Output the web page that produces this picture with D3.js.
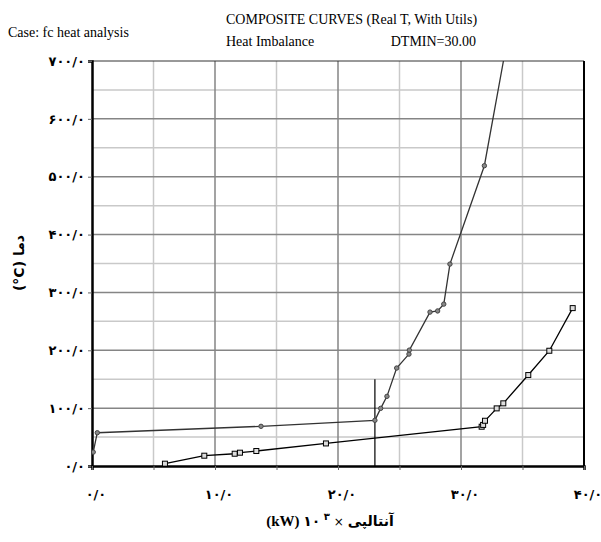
<!DOCTYPE html>
<html>
<head>
<meta charset="utf-8">
<script src="https://cdn.jsdelivr.net/npm/d3@7"></script>
<style>
  body { margin: 0; background: #fff; }
  svg { display: block; }
</style>
</head>
<body>
<svg id="chart" width="601" height="542"></svg>
<script>
// Hot composite curve (circles), enthalpy in kW x 10^3, temperature in C.
const hotH = [0.1, 0.43, 13.74, 23.0, 23.47, 23.98, 24.77, 25.77, 25.8, 27.48, 28.1, 28.6, 29.1, 31.9, 33.45];
const hotT = [24, 57.5, 68.6, 79, 99.6, 120.4, 169.3, 193.4, 200.3, 266, 268, 279.8, 349, 519, 700];

// Cold composite curve (squares).
const coldH = [5.93, 9.13, 11.6, 12.03, 13.36, 19.02, 31.68, 31.8, 31.95, 32.9, 33.44, 35.47, 37.18, 39.08];
const coldT = [4, 17.8, 21.2, 23, 25.9, 39, 67.9, 71, 78.2, 99.6, 108.3, 157.2, 199.2, 272.9];

// Pinch marker line.
const pinchH = 23.0;
const pinchTop = 150;

const xTicks = [0, 10, 20, 30, 40];
const yTicks = [0, 100, 200, 300, 400, 500, 600, 700];

const toFa = (s) => String(s).replace(/[0-9]/g, (d) => '۰۱۲۳۴۵۶۷۸۹'[+d]);
const fmt = (v) => toFa(v) + '/' + toFa(0);

const margin = {left: 92, right: 17, top: 61, bottom: 76};
const width = 601 - margin.left - margin.right;
const height = 542 - margin.top - margin.bottom;

const svg = d3.select('#chart');
const g = svg.append('g').attr('transform', `translate(${margin.left},${margin.top})`);

const x = d3.scaleLinear().domain([0, 40]).range([0, width]);
const y = d3.scaleLinear().domain([0, 700]).range([height, 0]);

// Minor grid (light) at the half steps, major grid (darker) at labelled steps.
const xMinor = d3.range(5, 40, 10);
const yMinor = d3.range(50, 700, 100);
g.append('g').selectAll('line').data(xMinor).join('line')
  .attr('x1', (d) => x(d)).attr('x2', (d) => x(d))
  .attr('y1', 0).attr('y2', height)
  .attr('stroke', '#c9c9c9').attr('stroke-width', 1.5);
g.append('g').selectAll('line').data(yMinor).join('line')
  .attr('y1', (d) => y(d)).attr('y2', (d) => y(d))
  .attr('x1', 0).attr('x2', width)
  .attr('stroke', '#c9c9c9').attr('stroke-width', 1.5);
g.append('g').selectAll('line').data(xTicks.slice(1, -1)).join('line')
  .attr('x1', (d) => x(d)).attr('x2', (d) => x(d))
  .attr('y1', 0).attr('y2', height)
  .attr('stroke', '#858585').attr('stroke-width', 1.5);
g.append('g').selectAll('line').data(yTicks.slice(1, -1)).join('line')
  .attr('y1', (d) => y(d)).attr('y2', (d) => y(d))
  .attr('x1', 0).attr('x2', width)
  .attr('stroke', '#858585').attr('stroke-width', 1.5);

// Frame: top thin, others heavy.
g.append('line').attr('x1', 0).attr('x2', width).attr('y1', 0).attr('y2', 0)
  .attr('stroke', '#333').attr('stroke-width', 1);
g.append('line').attr('x1', width).attr('x2', width).attr('y1', 0).attr('y2', height)
  .attr('stroke', '#000').attr('stroke-width', 2);

// Axes
const yAxis = d3.axisLeft(y).tickValues(yTicks).tickSize(4).tickFormat(fmt);
const xAxis = d3.axisBottom(x).tickValues(d3.range(0, 41, 5)).tickSize(4).tickFormat(() => '');

const gy = g.append('g').call(yAxis);
const gx = g.append('g').attr('transform', `translate(0,${height})`).call(xAxis);
[gx, gy].forEach((a) => {
  a.select('.domain').attr('stroke', '#000').attr('stroke-width', 2.5);
  a.selectAll('.tick line').attr('stroke', '#666');
});
gy.selectAll('.tick text')
  .attr('x', -7)
  .style('font-family', '"DejaVu Sans", sans-serif')
  .style('font-weight', 'bold')
  .style('font-size', '13px')
  .attr('fill', '#000');

// X tick labels (drawn separately, further below the axis).
g.append('g').selectAll('text').data(xTicks).join('text')
  .attr('x', (d) => x(d) + 4)
  .attr('y', height + 33)
  .attr('text-anchor', 'middle')
  .style('font-family', '"DejaVu Sans", sans-serif')
  .style('font-weight', 'bold')
  .style('font-size', '13px')
  .text(fmt);

// Clip to plot area
svg.append('defs').append('clipPath').attr('id', 'plot-clip')
  .append('rect').attr('x', 0).attr('y', 0).attr('width', width).attr('height', height);

const plot = g.append('g').attr('clip-path', 'url(#plot-clip)');
const line = d3.line().x((d) => x(d[0])).y((d) => y(d[1]));

const hot = d3.zip(hotH, hotT);
const cold = d3.zip(coldH, coldT);

// Pinch vertical line
plot.append('line')
  .attr('x1', x(pinchH)).attr('x2', x(pinchH))
  .attr('y1', y(pinchTop)).attr('y2', y(0))
  .attr('stroke', '#000').attr('stroke-width', 1.2);

plot.append('path').datum(hot).attr('d', line)
  .attr('fill', 'none').attr('stroke', '#333').attr('stroke-width', 1.3);
plot.append('path').datum(cold).attr('d', line)
  .attr('fill', 'none').attr('stroke', '#000').attr('stroke-width', 1.3);

plot.append('g').selectAll('circle').data(hot.slice(0, -1)).join('circle')
  .attr('cx', (d) => x(d[0])).attr('cy', (d) => y(d[1])).attr('r', 2.2)
  .attr('fill', '#888').attr('stroke', '#444').attr('stroke-width', 1);

plot.append('g').selectAll('rect').data(cold).join('rect')
  .attr('x', (d) => x(d[0]) - 2.5).attr('y', (d) => y(d[1]) - 2.5)
  .attr('width', 5).attr('height', 5)
  .attr('fill', '#ddd').attr('stroke', '#000').attr('stroke-width', 1);

// Header texts
const serif = '"Liberation Serif", "Times New Roman", serif';
svg.append('text').attr('x', 8).attr('y', 37).text('Case: fc heat analysis')
  .style('font-family', serif).style('font-size', '14px');
svg.append('text').attr('x', 226).attr('y', 24).text('COMPOSITE CURVES (Real T, With Utils)')
  .style('font-family', serif).style('font-size', '14px');
svg.append('text').attr('x', 226).attr('y', 46).text('Heat Imbalance')
  .style('font-family', serif).style('font-size', '14px');
svg.append('text').attr('x', 476).attr('y', 46).attr('text-anchor', 'end').text('DTMIN=30.00')
  .style('font-family', serif).style('font-size', '14px');

// Y axis title, visual order "(°C) دما" read bottom to top
svg.append('text')
  .attr('transform', 'translate(24,263) rotate(-90)')
  .attr('text-anchor', 'middle')
  .style('font-family', '"DejaVu Sans", sans-serif')
  .style('font-weight', 'bold')
  .style('font-size', '14px')
  .text('(°C) دما');

// X axis title: "(kW) ۱۰^۳ × آنتالپی" laid out left to right
const xt = svg.append('text')
  .attr('x', 330).attr('y', 526)
  .attr('text-anchor', 'middle')
  .style('font-family', '"DejaVu Sans", sans-serif')
  .style('font-weight', 'bold')
  .style('font-size', '14px');
xt.append('tspan').text('(kW) ').style('font-family', serif).style('font-size', '15px');
xt.append('tspan').text('۱۰');
xt.append('tspan').text(' ۳').attr('dy', -6).style('font-size', '10px');
xt.append('tspan').text(' × ').attr('dy', 6).style('font-weight', 'normal').style('font-size', '12px');
xt.append('tspan').text('آنتالپی');
</script>
</body>
</html>
